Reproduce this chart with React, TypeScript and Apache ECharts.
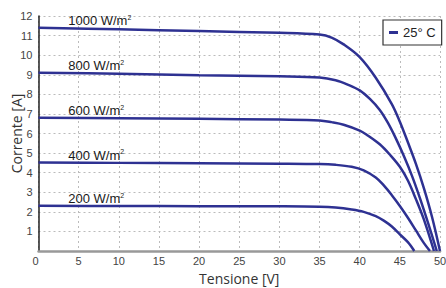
import React, { useEffect, useRef } from "react";
import * as echarts from "echarts";

const xTicks = [0, 5, 10, 15, 20, 25, 30, 35, 40, 45, 50];
const yTicks = [0, 1, 2, 3, 4, 5, 6, 7, 8, 9, 10, 11, 12];

const irradianceLabels = ["1000", "800", "600", "400", "200"];

const curve1000: number[][] = [
  [0, 11.4], [10, 11.32], [20, 11.23], [30, 11.14], [35, 11.05], [36.5, 10.9],
  [38, 10.55], [40, 9.9], [42, 8.85], [44, 7.5], [45, 6.6], [46, 5.55],
  [47, 4.45], [48, 3.2], [49, 1.75], [50, 0],
];
const curve800: number[][] = [
  [0, 9.1], [10, 9.05], [20, 8.98], [30, 8.92], [35, 8.86], [37, 8.72],
  [38.5, 8.5], [40, 8.2], [41.3, 7.75], [42.5, 7.2], [43.5, 6.55], [44.5, 5.75],
  [45.5, 4.85], [46.5, 3.85], [47.5, 2.7], [48.5, 1.45], [49.6, 0],
];
const curve600: number[][] = [
  [0, 6.8], [10, 6.78], [20, 6.75], [30, 6.71], [35, 6.67], [36.5, 6.58],
  [38, 6.45], [40, 6.15], [41, 5.9], [42.5, 5.45], [43.8, 4.9], [45, 4.3],
  [46, 3.6], [47, 2.65], [48, 1.6], [49.25, 0],
];
const curve400: number[][] = [
  [0, 4.52], [10, 4.5], [20, 4.48], [30, 4.46], [35, 4.44], [37, 4.4],
  [39, 4.3], [40.5, 4.12], [42, 3.75], [43, 3.35], [44, 2.85], [45, 2.3],
  [46, 1.7], [47, 1.05], [48, 0.4], [48.75, 0],
];
const curve200: number[][] = [
  [0, 2.31], [10, 2.3], [20, 2.29], [30, 2.28], [35, 2.26], [37, 2.22],
  [39, 2.12], [40.5, 2.0], [42, 1.78], [43, 1.55], [44, 1.25], [45, 0.85],
  [46, 0.45], [46.8, 0],
];

const curves = [curve1000, curve800, curve600, curve400, curve200];
const legendName = "25° C";
const labelVoltage = 3.7;

export default function App() {
  const ref = useRef<HTMLDivElement>(null);
  useEffect(() => {
    if (!ref.current) return;
    document.body.style.margin = "0";
    const chart = echarts.init(ref.current, null, { renderer: "svg" });
    const color = "#2e3192";
    const series = curves.map((c, i) => ({
      name: legendName,
      type: "line",
      data: c,
      smooth: 0.35,
      showSymbol: false,
      symbol: "none",
      lineStyle: { color, width: 2.5 },
      itemStyle: { color },
      markPoint: {
        symbol: "circle",
        symbolSize: 0,
        itemStyle: { color: "transparent" },
        data: [
          {
            coord: [labelVoltage, c[0][1]],
            label: {
              show: true,
              position: "right",
              distance: 0,
              offset: [0, -7],
              formatter: irradianceLabels[i] + " W/m{sup|2}",
              color: "#1a1a1a",
              fontFamily: "Liberation Sans",
              fontSize: 13,
              rich: {
                sup: {
                  fontSize: 7,
                  verticalAlign: "top",
                  color: "#1a1a1a",
                  fontFamily: "Liberation Sans",
                  padding: [0, 0, 7, 0],
                },
              },
            },
          },
        ],
      },
    }));
    chart.setOption({
      animation: false,
      backgroundColor: "#fff",
      grid: { left: 38.5, right: 6, top: 16, bottom: 37, outerBoundsMode: "none", containLabel: false },
      legend: {
        data: [legendName],
        left: 383,
        top: 20,
        padding: [6, 6, 6, 6],
        backgroundColor: "#fff",
        borderColor: "#333",
        borderWidth: 1.2,
        borderRadius: 0,
        icon: "rect",
        itemWidth: 9,
        itemHeight: 3,
        itemGap: 5,
        textStyle: { fontFamily: "Liberation Sans", fontSize: 13, color: "#222" },
      },
      xAxis: {
        type: "value",
        min: xTicks[0],
        max: xTicks[xTicks.length - 1],
        interval: xTicks[1] - xTicks[0],
        name: "Tensione [V]",
        nameLocation: "middle",
        nameGap: 20,
        nameMoveOverlap: false,
        nameTextStyle: { fontFamily: "Open Sans", fontSize: 14, color: "#333" },
        axisLine: { show: true, lineStyle: { color: "#999", width: 2.5 } },
        axisTick: { show: false },
        axisLabel: {
          color: "#444",
          fontFamily: "Liberation Sans",
          fontSize: 11,
          margin: 4,
          alignMinLabel: "right",
        },
        splitLine: { show: true, lineStyle: { color: "#bbb", type: [2, 3], width: 1 } },
      },
      yAxis: {
        type: "value",
        min: yTicks[0],
        max: yTicks[yTicks.length - 1],
        interval: yTicks[1] - yTicks[0],
        name: "Corrente [A]",
        nameLocation: "middle",
        nameGap: 15,
        nameMoveOverlap: false,
        nameTextStyle: { fontFamily: "Open Sans", fontSize: 14, color: "#333" },
        axisLine: { show: true, lineStyle: { color: "#222", width: 1.5 } },
        axisTick: { show: false },
        axisLabel: {
          color: "#444",
          fontFamily: "Liberation Sans",
          fontSize: 11,
          margin: 6,
          formatter: (v: number) => (v === 0 ? "" : String(v)),
        },
        splitLine: { show: true, lineStyle: { color: "#bbb", type: [2, 3], width: 1 } },
      },
      series,
    });
    return () => chart.dispose();
  }, []);
  return (
    <div
      ref={ref}
      style={{ width: 446, height: 288, position: "absolute", left: 0, top: 0 }}
    />
  );
}
